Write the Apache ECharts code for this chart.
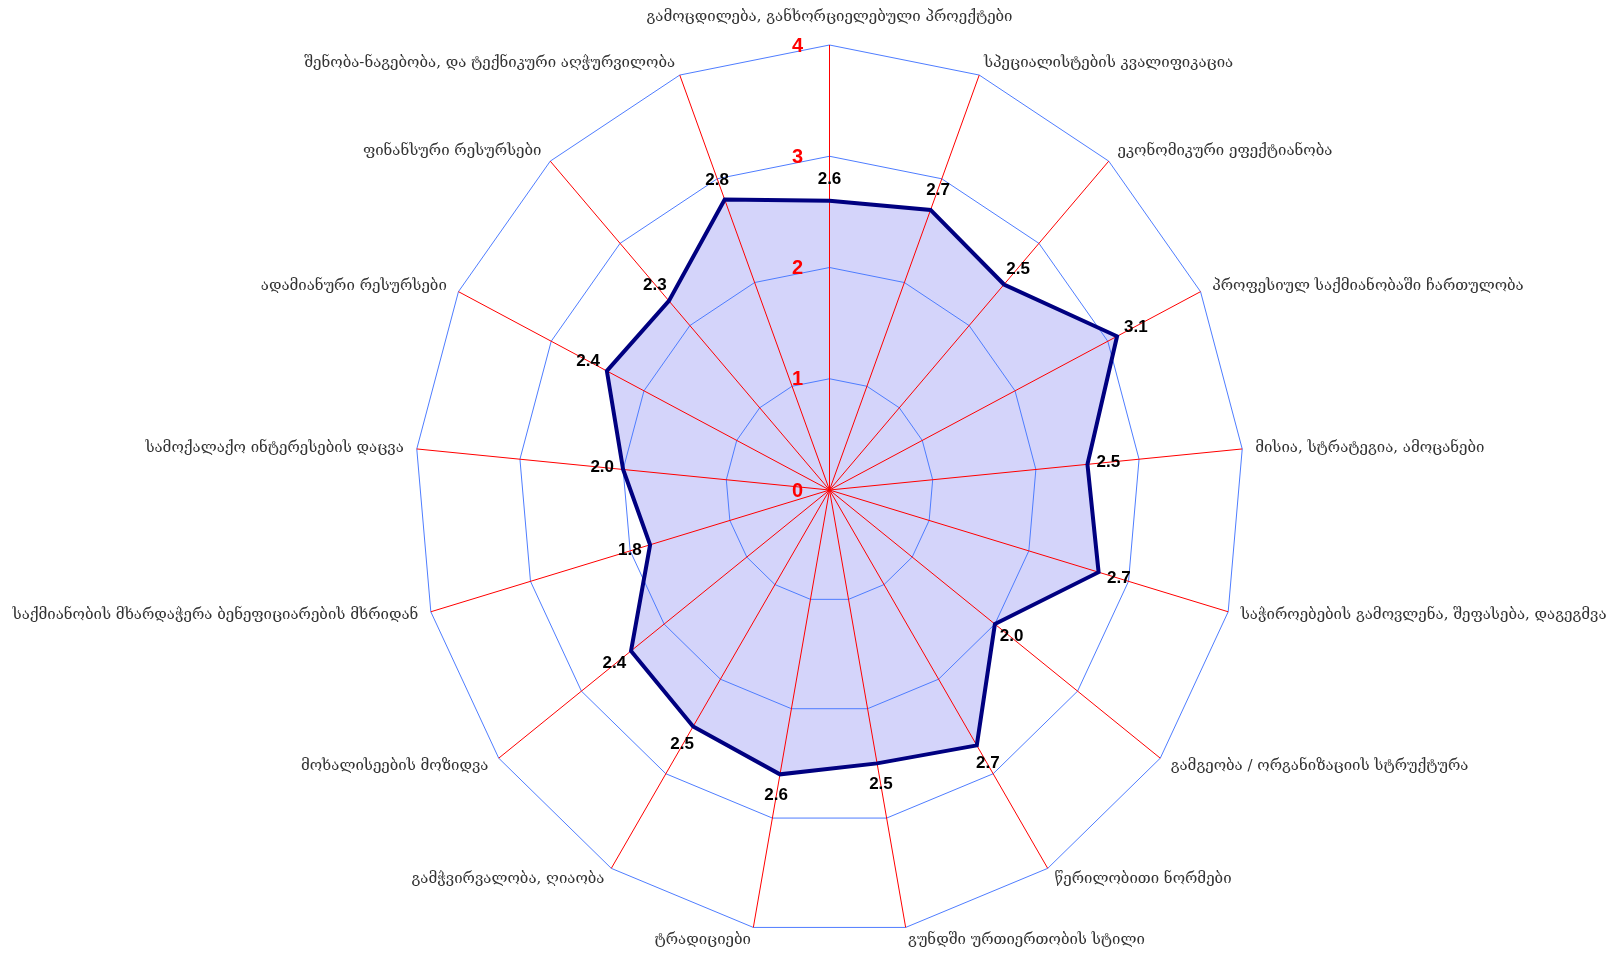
<!DOCTYPE html>
<html>
<head>
<meta charset="utf-8">
<script src="https://cdn.jsdelivr.net/npm/echarts@6/dist/echarts.min.js"></script>
<style>
  html, body { margin: 0; padding: 0; background: #fff; }
  #chart { width: 1619px; height: 953px; }
</style>
</head>
<body>
<div id="chart"></div>
<script>
/* Radar data — clockwise from the top */
const indicators = [
  "გამოცდილება, განხორციელებული პროექტები",
  "სპეციალისტების კვალიფიკაცია",
  "ეკონომიკური ეფექტიანობა",
  "პროფესიულ საქმიანობაში ჩართულობა",
  "მისია, სტრატეგია, ამოცანები",
  "საჭიროებების გამოვლენა, შეფასება, დაგეგმვა",
  "გამგეობა / ორგანიზაციის სტრუქტურა",
  "წერილობითი ნორმები",
  "გუნდში ურთიერთობის სტილი",
  "ტრადიციები",
  "გამჭვირვალობა, ღიაობა",
  "მოხალისეების მოზიდვა",
  "საქმიანობის მხარდაჭერა ბენეფიციარების მხრიდან",
  "სამოქალაქო ინტერესების დაცვა",
  "ადამიანური რესურსები",
  "ფინანსური რესურსები",
  "შენობა-ნაგებობა, და ტექნიკური აღჭურვილობა"
];
const scores = [2.6, 2.7, 2.5, 3.1, 2.5, 2.7, 2.0, 2.7, 2.5, 2.6, 2.5, 2.4, 1.8, 2.0, 2.4, 2.3, 2.8];
const ringLevels = [1, 2, 3, 4];
const tickLabels = [0, 1, 2, 3, 4];
const scaleMax = 4;

/* geometry helpers: value + axis index -> data-space x/y */
const N = indicators.length;
const ang = i => 2 * Math.PI * i / N;
const toXY = (v, i) => [v * Math.sin(ang(i)), v * Math.cos(ang(i))];

const chart = echarts.init(document.getElementById("chart"));

const nameFont = "15px 'DejaVu Serif', 'DejaVu Sans', serif";
const numFont = "bold 17px 'Liberation Sans', Arial, sans-serif";

chart.setOption({
  animation: false,
  backgroundColor: "#fff",
  grid: { left: 415, top: 45, width: 829, height: 890 },
  xAxis: { type: "value", min: -scaleMax, max: scaleMax, show: false },
  yAxis: { type: "value", min: -scaleMax, max: scaleMax, show: false },
  series: [
    { // filled area
      type: "custom", z: 1, clip: false, silent: true,
      data: [scores],
      renderItem: (params, api) => ({
        type: "polygon",
        shape: { points: indicators.map((_, i) => api.coord(toXY(api.value(i), i))) },
        style: { fill: "#d4d4fa", stroke: "none" }
      })
    },
    { // rings
      type: "custom", z: 2, clip: false, silent: true,
      data: ringLevels.map(v => [v, 0]),
      renderItem: (params, api) => {
        const lv = api.value(0);
        return {
          type: "polygon",
          shape: { points: indicators.map((_, i) => api.coord(toXY(lv, i))) },
          style: { fill: "none", stroke: "#4f7dff", lineWidth: 1 }
        };
      }
    },
    { // spokes
      type: "custom", z: 3, clip: false, silent: true,
      data: indicators.map((_, i) => [i, scaleMax]),
      renderItem: (params, api) => {
        const i = api.value(0);
        const a = api.coord([0, 0]);
        const b = api.coord(toXY(api.value(1), i));
        return {
          type: "line",
          shape: { x1: a[0], y1: a[1], x2: b[0], y2: b[1] },
          style: { stroke: "#ff0000", lineWidth: 1 }
        };
      }
    },
    { // score outline
      type: "custom", z: 4, clip: false, silent: true,
      data: [scores],
      renderItem: (params, api) => ({
        type: "polygon",
        shape: { points: indicators.map((_, i) => api.coord(toXY(api.value(i), i))) },
        style: { fill: "none", stroke: "#000080", lineWidth: 4, lineJoin: "miter" }
      })
    },
    { // value labels
      type: "custom", z: 5, clip: false, silent: true,
      data: scores.map((s, i) => [i, s]),
      renderItem: (params, api) => {
        const i = api.value(0), v = api.value(1);
        const p = api.coord(toXY(v, i));
        const d = 21;
        return {
          type: "text",
          x: p[0] + d * Math.sin(ang(i)),
          y: p[1] - d * Math.cos(ang(i)),
          style: { text: v.toFixed(1), fill: "#000", font: numFont, align: "center", verticalAlign: "middle" }
        };
      }
    },
    { // axis tick labels on the first spoke
      type: "custom", z: 5, clip: false, silent: true,
      data: tickLabels.map(t => [0, t]),
      renderItem: (params, api) => {
        const t = api.value(1);
        const p = api.coord([0, t]);
        return {
          type: "text", x: p[0] - 32, y: p[1] + 1,
          style: { text: String(t), fill: "#ff0000", font: "bold 20px 'Liberation Sans', Arial, sans-serif", align: "center", verticalAlign: "middle" }
        };
      }
    },
    { // indicator names
      type: "custom", z: 5, clip: false, silent: true,
      data: indicators.map((n, i) => ({ name: n, value: [i, scaleMax] })),
      renderItem: (params, api) => {
        const i = api.value(0);
        const p = api.coord(toXY(api.value(1), i));
        const s = Math.sin(ang(i)), c = Math.cos(ang(i));
        let align = "center", vAlign = "middle", gap = 13;
        if (Math.abs(s) < 0.05) { vAlign = c > 0 ? "bottom" : "top"; gap = 20; }
        else align = s > 0 ? "left" : "right";
        return {
          type: "text",
          x: p[0] + gap * s,
          y: p[1] - gap * c,
          style: { text: indicators[i], fill: "#333", font: nameFont, align: align, verticalAlign: vAlign }
        };
      }
    }
  ]
});
</script>
</body>
</html>
